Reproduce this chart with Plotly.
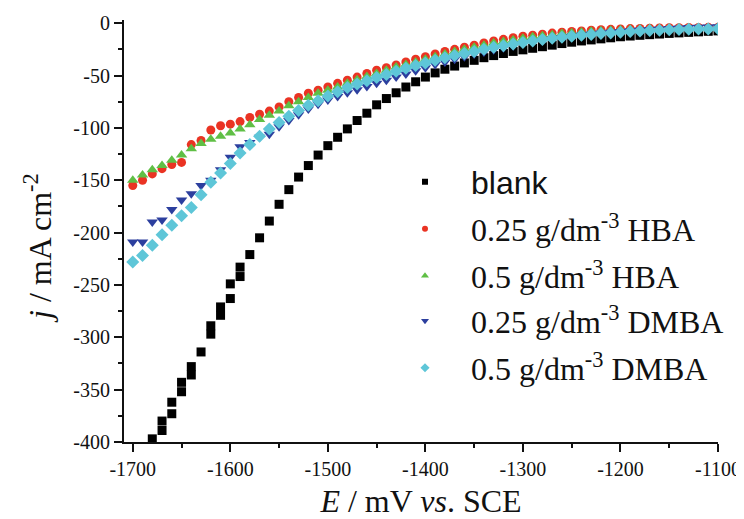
import plotly.graph_objects as go

# ---------------- data ----------------
E = [-1700, -1690, -1680, -1670, -1660, -1650, -1640, -1630, -1620, -1610,
     -1600, -1590, -1580, -1570, -1560, -1550, -1540, -1530, -1520, -1510,
     -1500, -1490, -1480, -1470, -1460, -1450, -1440, -1430, -1420, -1410,
     -1400, -1390, -1380, -1370, -1360, -1350, -1340, -1330, -1320, -1310,
     -1300, -1290, -1280, -1270, -1260, -1250, -1240, -1230, -1220, -1210,
     -1200, -1190, -1180, -1170, -1160, -1150, -1140, -1130, -1120, -1110,
     -1100]

E_blank = [-1680, -1670, -1670, -1660, -1660, -1650, -1650, -1640, -1640, -1630,
           -1620, -1620, -1610, -1610, -1600, -1600, -1590, -1590, -1580, -1570,
           -1560, -1550, -1540, -1530, -1520, -1510, -1500, -1490, -1480, -1470,
           -1460, -1450, -1440, -1430, -1420, -1410, -1400, -1390, -1380, -1370,
           -1360, -1350, -1340, -1330, -1320, -1310, -1300, -1290, -1280, -1270,
           -1260, -1250, -1240, -1230, -1220, -1210, -1200, -1190, -1180, -1170,
           -1160, -1150, -1140, -1130, -1120, -1110, -1100]
j_blank = [-397, -389, -380, -373, -362, -352, -343, -336, -328, -314,
           -297, -289, -279, -271, -263, -249, -242, -233, -221, -205,
           -189, -173, -159, -147, -136, -126, -117, -109, -101, -93,
           -86, -78, -72, -66.5, -61, -56, -51.5, -47.5, -44, -41,
           -38, -35.5, -33, -31, -29, -27, -25.5, -24, -22.5, -21,
           -19.5, -18.2, -17, -16, -15, -14, -13, -12.3, -11.6, -11,
           -10.4, -9.8, -9.3, -8.8, -8.3, -7.8, -7.4]

j_hba025 = [-155, -150, -144, -139, -135, -133, -116, -112, -102, -98,
            -96.5, -94, -90, -87, -84, -80, -75, -71, -67, -64,
            -61, -57.5, -54.5, -51.5, -48, -45, -42.5, -40, -37, -34.5,
            -32, -29.5, -27, -25, -23, -21, -19, -17, -15.5, -14,
            -12.5, -11.5, -10.5, -9.5, -8.7, -8, -7.4, -6.8, -6.3, -5.9,
            -5.5, -5.2, -5, -4.8, -4.6, -4.4, -4.3, -4.2, -4.1, -4,
            -4]

j_hba05 = [-150, -145, -140, -136, -131, -126, -120, -115, -111, -108,
           -105, -101, -97, -92, -88, -84, -79, -75, -71, -67,
           -64, -61, -57.5, -54, -51, -48, -45, -42, -39.5, -37,
           -34.5, -32, -29.5, -27, -25, -23, -21, -19, -17.5, -16,
           -14.5, -13, -12, -11, -10, -9.2, -8.5, -7.8, -7.2, -6.7,
           -6.2, -5.8, -5.5, -5.2, -5, -4.8, -4.6, -4.5, -4.4, -4.3,
           -4.2]

j_dmba025 = [-209, -209, -190, -188, -178, -169, -163, -155, -150, -140,
             -128, -118, -114, -109, -106, -99, -93, -87.5, -82, -77.5,
             -73.5, -70, -66.5, -63.5, -60.5, -57.5, -54.5, -51.5, -48.5, -45.5,
             -42.5, -39.5, -37, -34.5, -32, -29.5, -27.5, -25.5, -23.5, -21.5,
             -19.5, -18, -16.5, -15, -13.8, -12.5, -11.4, -10.4, -9.5, -8.7,
             -7.9, -7.2, -6.6, -6, -5.5, -5, -4.6, -4.2, -3.9, -3.6,
             -3.4]

j_dmba05 = [-228, -222, -212, -202, -193, -184, -176, -164, -152, -143,
            -134, -124, -116, -108, -101, -95, -89, -83.5, -78.5, -74,
            -69.5, -65.5, -61.5, -58, -55, -52, -49, -46, -43, -40.5,
            -38, -35.5, -33, -31, -29, -27, -25, -23, -21.5, -20,
            -18.5, -17, -15.7, -14.5, -13.5, -12.5, -11.6, -10.8, -10, -9.3,
            -8.6, -8, -7.5, -7.1, -6.7, -6.4, -6.1, -5.9, -5.7, -5.5,
            -5.4]

series_names = ["blank",
                "0.25 g/dm<sup>-3</sup> HBA",
                "0.5 g/dm<sup>-3</sup> HBA",
                "0.25 g/dm<sup>-3</sup> DMBA",
                "0.5 g/dm<sup>-3</sup> DMBA"]

x_ticks = [-1700, -1600, -1500, -1400, -1300, -1200, -1100]
x_ticktext = ["-1700", "-1600", "-1500", "-1400", "-1300", "-1200", "-1100"]
y_ticks = [0, -50, -100, -150, -200, -250, -300, -350, -400]
y_ticktext = ["0", "-50", "-100", "-150", "-200", "-250", "-300", "-350", "-400"]

# ---------------- styling ----------------
colors = ["#000000", "#ea3323", "#5fbf45", "#2c3f9e", "#5ec6d8"]
symbols = ["square", "circle", "triangle-up", "triangle-down", "diamond"]
sizes = [9, 9, 10, 10, 10]
leg_sizes = [6, 6, 7, 7, 7]
xs = [E_blank, E, E, E, E]
ys = [j_blank, j_hba025, j_hba05, j_dmba025, j_dmba05]

fig = go.Figure()
for i in range(5):
    fig.add_trace(go.Scatter(
        x=xs[i], y=ys[i], mode="markers", showlegend=False,
        marker=dict(symbol=symbols[i], size=sizes[i], color=colors[i],
                    line=dict(width=0)),
        cliponaxis=True))

# legend entries (one legend per entry so the spacing can match)
leg_keys = ["legend", "legend2", "legend3", "legend4", "legend5"]
row_px = [182, 229, 276, 321, 368]   # page pixel rows of the legend entries
for i in range(5):
    fig.add_trace(go.Scatter(
        x=[None], y=[None], mode="markers", name=series_names[i],
        legend=leg_keys[i], showlegend=True,
        marker=dict(symbol=symbols[i], size=leg_sizes[i], color=colors[i],
                    line=dict(width=0))))

# The page body has an 8 px margin, so the figure is offset by (8, 8).
OFF = 8
PL, PT, PR, PB = 124, 20, 718, 442          # plot area in page pixels
W, H = 744 - OFF, 519 - OFF
L, T = PL - OFF, PT - OFF
R, B = W - (PR - OFF), H - (PB - OFF)
pw, ph = PR - PL, PB - PT

layout_legends = {}
for i, key in enumerate(leg_keys):
    layout_legends[key] = dict(
        x=(379 - PL) / pw, xanchor="left",
        y=(PB - row_px[i]) / ph, yanchor="middle",
        bgcolor="rgba(0,0,0,0)", borderwidth=0,
        itemwidth=82,
        font=dict(family=("Liberation Sans" if i == 0 else "Liberation Serif"),
                  size=32, color="#111111"))

fig.update_layout(
    width=W, height=H,
    margin=dict(l=L, r=R, t=T, b=B, pad=0, autoexpand=False),
    paper_bgcolor="white", plot_bgcolor="white",
    showlegend=True,
    **layout_legends,
    xaxis=dict(range=[-1709, -1100], showgrid=False, zeroline=False,
               automargin=False,
               showline=True, linecolor="#111111", linewidth=2,
               ticks="outside", ticklen=8, tickwidth=1.5, tickcolor="#111111",
               tickvals=x_ticks, ticktext=x_ticktext,
               tickfont=dict(family="Liberation Serif", size=20, color="#111111"),
               minor=dict(dtick=50, tick0=-1700, ticks="outside", ticklen=4,
                          tickwidth=1.5, tickcolor="#111111", showgrid=False),
               title=dict(text="<i>E</i> / mV <i>vs</i>. SCE", standoff=12,
                          font=dict(family="Liberation Serif", size=32, color="#111111"))),
    yaxis=dict(range=[-400, 3], showgrid=False, zeroline=False,
               automargin=False,
               showline=True, linecolor="#111111", linewidth=2,
               ticks="outside", ticklen=8, tickwidth=1.5, tickcolor="#111111",
               tickvals=y_ticks, ticktext=y_ticktext,
               tickfont=dict(family="Liberation Serif", size=20, color="#111111"),
               minor=dict(dtick=25, tick0=0, ticks="outside", ticklen=4,
                          tickwidth=1.5, tickcolor="#111111", showgrid=False)),
    annotations=[dict(
        text="<i>j</i> / mA cm<sup>-2</sup>", textangle=-90,
        xref="paper", yref="paper",
        x=(38 - PL) / pw, y=(PB - 248) / ph,
        xanchor="center", yanchor="middle", showarrow=False,
        font=dict(family="Liberation Serif", size=32, color="#111111"))],
)

fig.write_html("out.html")
